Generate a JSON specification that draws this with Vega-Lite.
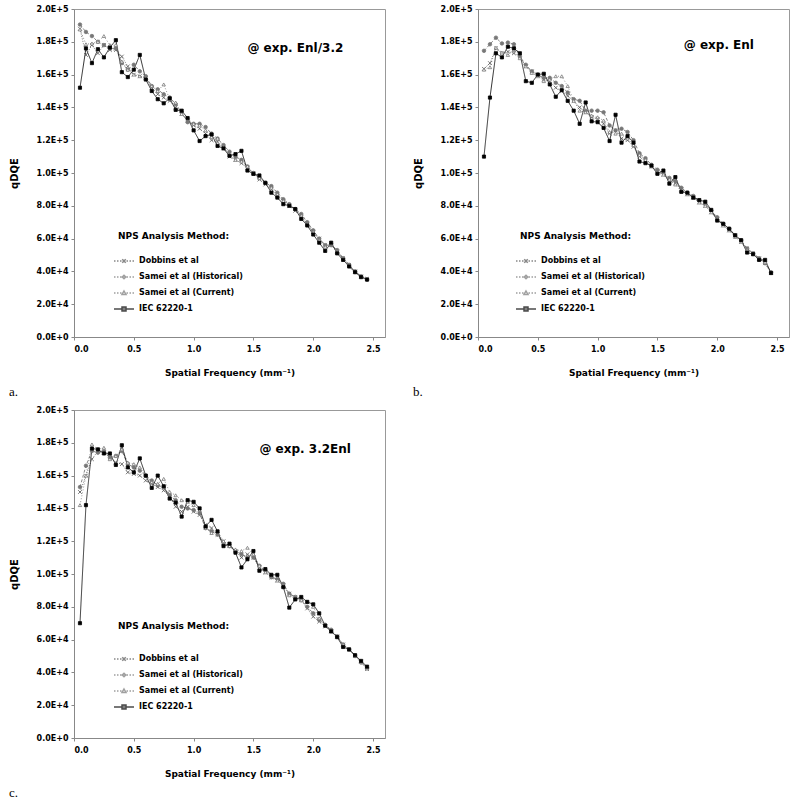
{
"$schema":"https://vega.github.io/schema/vega-lite/v6.json",
"padding":{"left":8,"top":4,"right":5,"bottom":5},
"config":{"font":"DejaVu Sans","view":{"stroke":"#999"},
 "axisX":{"values":[0,0.5,1,1.5,2,2.5],"format":".1f","labelOverlap":false,"title":"Spatial Frequency (mm⁻¹)","titleFontSize":9,"titleFontWeight":"bold","titleColor":"#000","titlePadding":15,"labelFontSize":8,"labelFontWeight":"bold","labelColor":"#000","domainColor":"#888","tickColor":"#888","tickSize":3,"labelPadding":5,"grid":false},
 "axisY":{"values":[0,20000,40000,60000,80000,100000,120000,140000,160000,180000,200000],"labelOverlap":false,"labelExpr":"upper(format(datum.value,'.1e'))","titleFontSize":10,"titleFontWeight":"bold","titleColor":"#000","titlePadding":17,"labelFontSize":8,"labelFontWeight":"bold","labelColor":"#000","domainColor":"#888","tickColor":"#888","tickSize":3,"labelPadding":3,"grid":false}
},
"datasets":{
"a":[
{"f":0.05,"s":"D","q":188000},{"f":0.05,"s":"H","q":190500},{"f":0.05,"s":"C","q":187500},{"f":0.05,"s":"I","q":152000},
{"f":0.1,"s":"D","q":172000},{"f":0.1,"s":"H","q":186000},{"f":0.1,"s":"C","q":178500},{"f":0.1,"s":"I","q":176000},
{"f":0.15,"s":"D","q":178000},{"f":0.15,"s":"H","q":183500},{"f":0.15,"s":"C","q":179000},{"f":0.15,"s":"I","q":167000},
{"f":0.2,"s":"D","q":173000},{"f":0.2,"s":"H","q":180000},{"f":0.2,"s":"C","q":180000},{"f":0.2,"s":"I","q":175500},
{"f":0.25,"s":"D","q":178000},{"f":0.25,"s":"H","q":178000},{"f":0.25,"s":"C","q":183500},{"f":0.25,"s":"I","q":170500},
{"f":0.3,"s":"D","q":175000},{"f":0.3,"s":"H","q":176000},{"f":0.3,"s":"C","q":178000},{"f":0.3,"s":"I","q":176500},
{"f":0.35,"s":"D","q":175000},{"f":0.35,"s":"H","q":176000},{"f":0.35,"s":"C","q":178000},{"f":0.35,"s":"I","q":181000},
{"f":0.4,"s":"D","q":171000},{"f":0.4,"s":"H","q":167000},{"f":0.4,"s":"C","q":168000},{"f":0.4,"s":"I","q":161500},
{"f":0.45,"s":"D","q":165000},{"f":0.45,"s":"H","q":163000},{"f":0.45,"s":"C","q":163000},{"f":0.45,"s":"I","q":158500},
{"f":0.5,"s":"D","q":160000},{"f":0.5,"s":"H","q":166000},{"f":0.5,"s":"C","q":160000},{"f":0.5,"s":"I","q":163000},
{"f":0.55,"s":"D","q":159000},{"f":0.55,"s":"H","q":162000},{"f":0.55,"s":"C","q":159000},{"f":0.55,"s":"I","q":172000},
{"f":0.6,"s":"D","q":158000},{"f":0.6,"s":"H","q":159000},{"f":0.6,"s":"C","q":158000},{"f":0.6,"s":"I","q":157000},
{"f":0.65,"s":"D","q":152000},{"f":0.65,"s":"H","q":153000},{"f":0.65,"s":"C","q":153000},{"f":0.65,"s":"I","q":150000},
{"f":0.7,"s":"D","q":148000},{"f":0.7,"s":"H","q":151000},{"f":0.7,"s":"C","q":150000},{"f":0.7,"s":"I","q":145000},
{"f":0.75,"s":"D","q":146000},{"f":0.75,"s":"H","q":148000},{"f":0.75,"s":"C","q":154000},{"f":0.75,"s":"I","q":142500},
{"f":0.8,"s":"D","q":144000},{"f":0.8,"s":"H","q":146000},{"f":0.8,"s":"C","q":145000},{"f":0.8,"s":"I","q":145500},
{"f":0.85,"s":"D","q":140000},{"f":0.85,"s":"H","q":142000},{"f":0.85,"s":"C","q":143000},{"f":0.85,"s":"I","q":138500},
{"f":0.9,"s":"D","q":136000},{"f":0.9,"s":"H","q":137000},{"f":0.9,"s":"C","q":136000},{"f":0.9,"s":"I","q":138000},
{"f":0.95,"s":"D","q":132000},{"f":0.95,"s":"H","q":131000},{"f":0.95,"s":"C","q":133000},{"f":0.95,"s":"I","q":133500},
{"f":1.0,"s":"D","q":129000},{"f":1.0,"s":"H","q":130000},{"f":1.0,"s":"C","q":130000},{"f":1.0,"s":"I","q":126000},
{"f":1.05,"s":"D","q":127000},{"f":1.05,"s":"H","q":130000},{"f":1.05,"s":"C","q":129000},{"f":1.05,"s":"I","q":119500},
{"f":1.1,"s":"D","q":124000},{"f":1.1,"s":"H","q":128000},{"f":1.1,"s":"C","q":126000},{"f":1.1,"s":"I","q":122500},
{"f":1.15,"s":"D","q":120000},{"f":1.15,"s":"H","q":124000},{"f":1.15,"s":"C","q":122000},{"f":1.15,"s":"I","q":123500},
{"f":1.2,"s":"D","q":119000},{"f":1.2,"s":"H","q":121000},{"f":1.2,"s":"C","q":121000},{"f":1.2,"s":"I","q":116500},
{"f":1.25,"s":"D","q":115000},{"f":1.25,"s":"H","q":117000},{"f":1.25,"s":"C","q":116000},{"f":1.25,"s":"I","q":115000},
{"f":1.3,"s":"D","q":110000},{"f":1.3,"s":"H","q":113000},{"f":1.3,"s":"C","q":111000},{"f":1.3,"s":"I","q":110500},
{"f":1.35,"s":"D","q":108000},{"f":1.35,"s":"H","q":110000},{"f":1.35,"s":"C","q":108000},{"f":1.35,"s":"I","q":111500},
{"f":1.4,"s":"D","q":106000},{"f":1.4,"s":"H","q":108000},{"f":1.4,"s":"C","q":107000},{"f":1.4,"s":"I","q":113500},
{"f":1.45,"s":"D","q":103000},{"f":1.45,"s":"H","q":104000},{"f":1.45,"s":"C","q":104000},{"f":1.45,"s":"I","q":101500},
{"f":1.5,"s":"D","q":100000},{"f":1.5,"s":"H","q":100000},{"f":1.5,"s":"C","q":99500},{"f":1.5,"s":"I","q":99500},
{"f":1.55,"s":"D","q":96000},{"f":1.55,"s":"H","q":97000},{"f":1.55,"s":"C","q":97000},{"f":1.55,"s":"I","q":98500},
{"f":1.6,"s":"D","q":93000},{"f":1.6,"s":"H","q":94000},{"f":1.6,"s":"C","q":94000},{"f":1.6,"s":"I","q":94000},
{"f":1.65,"s":"D","q":90000},{"f":1.65,"s":"H","q":92000},{"f":1.65,"s":"C","q":91000},{"f":1.65,"s":"I","q":88000},
{"f":1.7,"s":"D","q":86000},{"f":1.7,"s":"H","q":88000},{"f":1.7,"s":"C","q":87000},{"f":1.7,"s":"I","q":85000},
{"f":1.75,"s":"D","q":83000},{"f":1.75,"s":"H","q":84000},{"f":1.75,"s":"C","q":83000},{"f":1.75,"s":"I","q":81000},
{"f":1.8,"s":"D","q":80000},{"f":1.8,"s":"H","q":81000},{"f":1.8,"s":"C","q":81000},{"f":1.8,"s":"I","q":80000},
{"f":1.85,"s":"D","q":77000},{"f":1.85,"s":"H","q":78000},{"f":1.85,"s":"C","q":78000},{"f":1.85,"s":"I","q":78000},
{"f":1.9,"s":"D","q":73000},{"f":1.9,"s":"H","q":75000},{"f":1.9,"s":"C","q":74000},{"f":1.9,"s":"I","q":72000},
{"f":1.95,"s":"D","q":69000},{"f":1.95,"s":"H","q":70000},{"f":1.95,"s":"C","q":69000},{"f":1.95,"s":"I","q":68000},
{"f":2.0,"s":"D","q":64000},{"f":2.0,"s":"H","q":65000},{"f":2.0,"s":"C","q":64000},{"f":2.0,"s":"I","q":62500},
{"f":2.05,"s":"D","q":60000},{"f":2.05,"s":"H","q":60000},{"f":2.05,"s":"C","q":59000},{"f":2.05,"s":"I","q":57500},
{"f":2.1,"s":"D","q":56000},{"f":2.1,"s":"H","q":56000},{"f":2.1,"s":"C","q":55000},{"f":2.1,"s":"I","q":52500},
{"f":2.15,"s":"D","q":56000},{"f":2.15,"s":"H","q":56000},{"f":2.15,"s":"C","q":57000},{"f":2.15,"s":"I","q":57500},
{"f":2.2,"s":"D","q":52000},{"f":2.2,"s":"H","q":53000},{"f":2.2,"s":"C","q":52000},{"f":2.2,"s":"I","q":51000},
{"f":2.25,"s":"D","q":48000},{"f":2.25,"s":"H","q":48000},{"f":2.25,"s":"C","q":48000},{"f":2.25,"s":"I","q":47000},
{"f":2.3,"s":"D","q":44000},{"f":2.3,"s":"H","q":44000},{"f":2.3,"s":"C","q":44000},{"f":2.3,"s":"I","q":43000},
{"f":2.35,"s":"D","q":40000},{"f":2.35,"s":"H","q":40000},{"f":2.35,"s":"C","q":40000},{"f":2.35,"s":"I","q":39500},
{"f":2.4,"s":"D","q":37000},{"f":2.4,"s":"H","q":37000},{"f":2.4,"s":"C","q":37000},{"f":2.4,"s":"I","q":36500},
{"f":2.45,"s":"D","q":35500},{"f":2.45,"s":"H","q":35000},{"f":2.45,"s":"C","q":35500},{"f":2.45,"s":"I","q":35000}
],
"b":[
{"f":0.05,"s":"D","q":163500},{"f":0.05,"s":"H","q":174500},{"f":0.05,"s":"C","q":163000},{"f":0.05,"s":"I","q":110000},
{"f":0.1,"s":"D","q":167000},{"f":0.1,"s":"H","q":178500},{"f":0.1,"s":"C","q":164500},{"f":0.1,"s":"I","q":146000},
{"f":0.15,"s":"D","q":176000},{"f":0.15,"s":"H","q":182500},{"f":0.15,"s":"C","q":176500},{"f":0.15,"s":"I","q":173000},
{"f":0.2,"s":"D","q":173000},{"f":0.2,"s":"H","q":179000},{"f":0.2,"s":"C","q":173500},{"f":0.2,"s":"I","q":170500},
{"f":0.25,"s":"D","q":174000},{"f":0.25,"s":"H","q":179500},{"f":0.25,"s":"C","q":172000},{"f":0.25,"s":"I","q":177000},
{"f":0.3,"s":"D","q":173000},{"f":0.3,"s":"H","q":178500},{"f":0.3,"s":"C","q":175000},{"f":0.3,"s":"I","q":176000},
{"f":0.35,"s":"D","q":171000},{"f":0.35,"s":"H","q":171000},{"f":0.35,"s":"C","q":170000},{"f":0.35,"s":"I","q":173000},
{"f":0.4,"s":"D","q":165000},{"f":0.4,"s":"H","q":166000},{"f":0.4,"s":"C","q":165000},{"f":0.4,"s":"I","q":156000},
{"f":0.45,"s":"D","q":162000},{"f":0.45,"s":"H","q":162000},{"f":0.45,"s":"C","q":161000},{"f":0.45,"s":"I","q":155000},
{"f":0.5,"s":"D","q":160000},{"f":0.5,"s":"H","q":160000},{"f":0.5,"s":"C","q":159000},{"f":0.5,"s":"I","q":160000},
{"f":0.55,"s":"D","q":157000},{"f":0.55,"s":"H","q":158000},{"f":0.55,"s":"C","q":156000},{"f":0.55,"s":"I","q":160500},
{"f":0.6,"s":"D","q":156000},{"f":0.6,"s":"H","q":158000},{"f":0.6,"s":"C","q":157000},{"f":0.6,"s":"I","q":154000},
{"f":0.65,"s":"D","q":152000},{"f":0.65,"s":"H","q":155000},{"f":0.65,"s":"C","q":159000},{"f":0.65,"s":"I","q":146500},
{"f":0.7,"s":"D","q":150000},{"f":0.7,"s":"H","q":153000},{"f":0.7,"s":"C","q":159000},{"f":0.7,"s":"I","q":150500},
{"f":0.75,"s":"D","q":147000},{"f":0.75,"s":"H","q":149000},{"f":0.75,"s":"C","q":153000},{"f":0.75,"s":"I","q":144000},
{"f":0.8,"s":"D","q":144000},{"f":0.8,"s":"H","q":145000},{"f":0.8,"s":"C","q":144000},{"f":0.8,"s":"I","q":138000},
{"f":0.85,"s":"D","q":140000},{"f":0.85,"s":"H","q":144000},{"f":0.85,"s":"C","q":138000},{"f":0.85,"s":"I","q":130000},
{"f":0.9,"s":"D","q":137000},{"f":0.9,"s":"H","q":138000},{"f":0.9,"s":"C","q":137000},{"f":0.9,"s":"I","q":143000},
{"f":0.95,"s":"D","q":134000},{"f":0.95,"s":"H","q":138000},{"f":0.95,"s":"C","q":135000},{"f":0.95,"s":"I","q":131500},
{"f":1.0,"s":"D","q":133000},{"f":1.0,"s":"H","q":138000},{"f":1.0,"s":"C","q":134000},{"f":1.0,"s":"I","q":131000},
{"f":1.05,"s":"D","q":130000},{"f":1.05,"s":"H","q":137000},{"f":1.05,"s":"C","q":132000},{"f":1.05,"s":"I","q":127500},
{"f":1.1,"s":"D","q":124000},{"f":1.1,"s":"H","q":129000},{"f":1.1,"s":"C","q":125000},{"f":1.1,"s":"I","q":119500},
{"f":1.15,"s":"D","q":126000},{"f":1.15,"s":"H","q":126000},{"f":1.15,"s":"C","q":124000},{"f":1.15,"s":"I","q":135500},
{"f":1.2,"s":"D","q":121000},{"f":1.2,"s":"H","q":127000},{"f":1.2,"s":"C","q":124000},{"f":1.2,"s":"I","q":118500},
{"f":1.25,"s":"D","q":120000},{"f":1.25,"s":"H","q":125000},{"f":1.25,"s":"C","q":121000},{"f":1.25,"s":"I","q":122500},
{"f":1.3,"s":"D","q":116000},{"f":1.3,"s":"H","q":120000},{"f":1.3,"s":"C","q":117000},{"f":1.3,"s":"I","q":118500},
{"f":1.35,"s":"D","q":110000},{"f":1.35,"s":"H","q":112000},{"f":1.35,"s":"C","q":111000},{"f":1.35,"s":"I","q":107000},
{"f":1.4,"s":"D","q":107000},{"f":1.4,"s":"H","q":109000},{"f":1.4,"s":"C","q":108000},{"f":1.4,"s":"I","q":106000},
{"f":1.45,"s":"D","q":104000},{"f":1.45,"s":"H","q":105000},{"f":1.45,"s":"C","q":104000},{"f":1.45,"s":"I","q":104500},
{"f":1.5,"s":"D","q":101000},{"f":1.5,"s":"H","q":102000},{"f":1.5,"s":"C","q":100000},{"f":1.5,"s":"I","q":99500},
{"f":1.55,"s":"D","q":99000},{"f":1.55,"s":"H","q":100000},{"f":1.55,"s":"C","q":99000},{"f":1.55,"s":"I","q":101500},
{"f":1.6,"s":"D","q":95000},{"f":1.6,"s":"H","q":97000},{"f":1.6,"s":"C","q":96000},{"f":1.6,"s":"I","q":93500},
{"f":1.65,"s":"D","q":94000},{"f":1.65,"s":"H","q":95000},{"f":1.65,"s":"C","q":93000},{"f":1.65,"s":"I","q":97500},
{"f":1.7,"s":"D","q":90000},{"f":1.7,"s":"H","q":91000},{"f":1.7,"s":"C","q":89000},{"f":1.7,"s":"I","q":88500},
{"f":1.75,"s":"D","q":87000},{"f":1.75,"s":"H","q":88000},{"f":1.75,"s":"C","q":87000},{"f":1.75,"s":"I","q":88000},
{"f":1.8,"s":"D","q":85000},{"f":1.8,"s":"H","q":86000},{"f":1.8,"s":"C","q":85000},{"f":1.8,"s":"I","q":85000},
{"f":1.85,"s":"D","q":82000},{"f":1.85,"s":"H","q":83000},{"f":1.85,"s":"C","q":82000},{"f":1.85,"s":"I","q":83500},
{"f":1.9,"s":"D","q":80000},{"f":1.9,"s":"H","q":81000},{"f":1.9,"s":"C","q":80000},{"f":1.9,"s":"I","q":82500},
{"f":1.95,"s":"D","q":76000},{"f":1.95,"s":"H","q":77000},{"f":1.95,"s":"C","q":76000},{"f":1.95,"s":"I","q":77500},
{"f":2.0,"s":"D","q":72000},{"f":2.0,"s":"H","q":73000},{"f":2.0,"s":"C","q":72000},{"f":2.0,"s":"I","q":71000},
{"f":2.05,"s":"D","q":68000},{"f":2.05,"s":"H","q":69000},{"f":2.05,"s":"C","q":68000},{"f":2.05,"s":"I","q":69000},
{"f":2.1,"s":"D","q":65000},{"f":2.1,"s":"H","q":66000},{"f":2.1,"s":"C","q":65000},{"f":2.1,"s":"I","q":66000},
{"f":2.15,"s":"D","q":62000},{"f":2.15,"s":"H","q":62000},{"f":2.15,"s":"C","q":61000},{"f":2.15,"s":"I","q":62000},
{"f":2.2,"s":"D","q":58000},{"f":2.2,"s":"H","q":59000},{"f":2.2,"s":"C","q":58000},{"f":2.2,"s":"I","q":59000},
{"f":2.25,"s":"D","q":54000},{"f":2.25,"s":"H","q":54000},{"f":2.25,"s":"C","q":53000},{"f":2.25,"s":"I","q":51500},
{"f":2.3,"s":"D","q":51000},{"f":2.3,"s":"H","q":51000},{"f":2.3,"s":"C","q":50500},{"f":2.3,"s":"I","q":50500},
{"f":2.35,"s":"D","q":48000},{"f":2.35,"s":"H","q":48000},{"f":2.35,"s":"C","q":47500},{"f":2.35,"s":"I","q":47000},
{"f":2.4,"s":"D","q":45000},{"f":2.4,"s":"H","q":45000},{"f":2.4,"s":"C","q":45500},{"f":2.4,"s":"I","q":47000},
{"f":2.45,"s":"D","q":39000},{"f":2.45,"s":"H","q":39500},{"f":2.45,"s":"C","q":39000},{"f":2.45,"s":"I","q":39000}
],
"c":[
{"f":0.05,"s":"D","q":150000},{"f":0.05,"s":"H","q":153000},{"f":0.05,"s":"C","q":142000},{"f":0.05,"s":"I","q":70000},
{"f":0.1,"s":"D","q":160000},{"f":0.1,"s":"H","q":166000},{"f":0.1,"s":"C","q":160000},{"f":0.1,"s":"I","q":142000},
{"f":0.15,"s":"D","q":170000},{"f":0.15,"s":"H","q":175000},{"f":0.15,"s":"C","q":179000},{"f":0.15,"s":"I","q":176500},
{"f":0.2,"s":"D","q":175000},{"f":0.2,"s":"H","q":174000},{"f":0.2,"s":"C","q":176000},{"f":0.2,"s":"I","q":176000},
{"f":0.25,"s":"D","q":174000},{"f":0.25,"s":"H","q":175000},{"f":0.25,"s":"C","q":177000},{"f":0.25,"s":"I","q":173500},
{"f":0.3,"s":"D","q":171000},{"f":0.3,"s":"H","q":171000},{"f":0.3,"s":"C","q":170000},{"f":0.3,"s":"I","q":173500},
{"f":0.35,"s":"D","q":168000},{"f":0.35,"s":"H","q":172000},{"f":0.35,"s":"C","q":172000},{"f":0.35,"s":"I","q":166500},
{"f":0.4,"s":"D","q":167000},{"f":0.4,"s":"H","q":175000},{"f":0.4,"s":"C","q":176000},{"f":0.4,"s":"I","q":178500},
{"f":0.45,"s":"D","q":162000},{"f":0.45,"s":"H","q":167000},{"f":0.45,"s":"C","q":168000},{"f":0.45,"s":"I","q":165000},
{"f":0.5,"s":"D","q":161000},{"f":0.5,"s":"H","q":165000},{"f":0.5,"s":"C","q":167000},{"f":0.5,"s":"I","q":162000},
{"f":0.55,"s":"D","q":160000},{"f":0.55,"s":"H","q":163000},{"f":0.55,"s":"C","q":165000},{"f":0.55,"s":"I","q":170500},
{"f":0.6,"s":"D","q":157000},{"f":0.6,"s":"H","q":160000},{"f":0.6,"s":"C","q":160000},{"f":0.6,"s":"I","q":160000},
{"f":0.65,"s":"D","q":155000},{"f":0.65,"s":"H","q":157000},{"f":0.65,"s":"C","q":156000},{"f":0.65,"s":"I","q":152500},
{"f":0.7,"s":"D","q":153000},{"f":0.7,"s":"H","q":154000},{"f":0.7,"s":"C","q":155000},{"f":0.7,"s":"I","q":160000},
{"f":0.75,"s":"D","q":151000},{"f":0.75,"s":"H","q":153000},{"f":0.75,"s":"C","q":158000},{"f":0.75,"s":"I","q":153500},
{"f":0.8,"s":"D","q":147000},{"f":0.8,"s":"H","q":148000},{"f":0.8,"s":"C","q":150000},{"f":0.8,"s":"I","q":146000},
{"f":0.85,"s":"D","q":141000},{"f":0.85,"s":"H","q":145000},{"f":0.85,"s":"C","q":148000},{"f":0.85,"s":"I","q":143500},
{"f":0.9,"s":"D","q":138000},{"f":0.9,"s":"H","q":141000},{"f":0.9,"s":"C","q":145000},{"f":0.9,"s":"I","q":135000},
{"f":0.95,"s":"D","q":141000},{"f":0.95,"s":"H","q":140000},{"f":0.95,"s":"C","q":144000},{"f":0.95,"s":"I","q":145000},
{"f":1.0,"s":"D","q":138000},{"f":1.0,"s":"H","q":139000},{"f":1.0,"s":"C","q":142000},{"f":1.0,"s":"I","q":144000},
{"f":1.05,"s":"D","q":136000},{"f":1.05,"s":"H","q":137000},{"f":1.05,"s":"C","q":139000},{"f":1.05,"s":"I","q":140000},
{"f":1.1,"s":"D","q":130000},{"f":1.1,"s":"H","q":128000},{"f":1.1,"s":"C","q":128000},{"f":1.1,"s":"I","q":129000},
{"f":1.15,"s":"D","q":128000},{"f":1.15,"s":"H","q":126000},{"f":1.15,"s":"C","q":125000},{"f":1.15,"s":"I","q":133000},
{"f":1.2,"s":"D","q":124000},{"f":1.2,"s":"H","q":124000},{"f":1.2,"s":"C","q":126000},{"f":1.2,"s":"I","q":126000},
{"f":1.25,"s":"D","q":120000},{"f":1.25,"s":"H","q":118000},{"f":1.25,"s":"C","q":120000},{"f":1.25,"s":"I","q":117000},
{"f":1.3,"s":"D","q":117000},{"f":1.3,"s":"H","q":117000},{"f":1.3,"s":"C","q":117000},{"f":1.3,"s":"I","q":118500},
{"f":1.35,"s":"D","q":114000},{"f":1.35,"s":"H","q":114000},{"f":1.35,"s":"C","q":115000},{"f":1.35,"s":"I","q":113000},
{"f":1.4,"s":"D","q":110000},{"f":1.4,"s":"H","q":112000},{"f":1.4,"s":"C","q":114000},{"f":1.4,"s":"I","q":104000},
{"f":1.45,"s":"D","q":112000},{"f":1.45,"s":"H","q":110000},{"f":1.45,"s":"C","q":116000},{"f":1.45,"s":"I","q":109000},
{"f":1.5,"s":"D","q":110000},{"f":1.5,"s":"H","q":110000},{"f":1.5,"s":"C","q":112000},{"f":1.5,"s":"I","q":114000},
{"f":1.55,"s":"D","q":104000},{"f":1.55,"s":"H","q":105000},{"f":1.55,"s":"C","q":105000},{"f":1.55,"s":"I","q":102000},
{"f":1.6,"s":"D","q":101000},{"f":1.6,"s":"H","q":102000},{"f":1.6,"s":"C","q":101000},{"f":1.6,"s":"I","q":103000},
{"f":1.65,"s":"D","q":98000},{"f":1.65,"s":"H","q":98000},{"f":1.65,"s":"C","q":99000},{"f":1.65,"s":"I","q":99500},
{"f":1.7,"s":"D","q":96000},{"f":1.7,"s":"H","q":97000},{"f":1.7,"s":"C","q":96000},{"f":1.7,"s":"I","q":99500},
{"f":1.75,"s":"D","q":93000},{"f":1.75,"s":"H","q":94000},{"f":1.75,"s":"C","q":93000},{"f":1.75,"s":"I","q":92000},
{"f":1.8,"s":"D","q":88000},{"f":1.8,"s":"H","q":88000},{"f":1.8,"s":"C","q":87000},{"f":1.8,"s":"I","q":79500},
{"f":1.85,"s":"D","q":86000},{"f":1.85,"s":"H","q":86000},{"f":1.85,"s":"C","q":85000},{"f":1.85,"s":"I","q":84500},
{"f":1.9,"s":"D","q":84000},{"f":1.9,"s":"H","q":84000},{"f":1.9,"s":"C","q":84000},{"f":1.9,"s":"I","q":86000},
{"f":1.95,"s":"D","q":79000},{"f":1.95,"s":"H","q":80000},{"f":1.95,"s":"C","q":83000},{"f":1.95,"s":"I","q":83000},
{"f":2.0,"s":"D","q":74000},{"f":2.0,"s":"H","q":76000},{"f":2.0,"s":"C","q":80000},{"f":2.0,"s":"I","q":81500},
{"f":2.05,"s":"D","q":71000},{"f":2.05,"s":"H","q":72000},{"f":2.05,"s":"C","q":73000},{"f":2.05,"s":"I","q":76000},
{"f":2.1,"s":"D","q":68000},{"f":2.1,"s":"H","q":69000},{"f":2.1,"s":"C","q":69000},{"f":2.1,"s":"I","q":68500},
{"f":2.15,"s":"D","q":65000},{"f":2.15,"s":"H","q":66000},{"f":2.15,"s":"C","q":65000},{"f":2.15,"s":"I","q":65000},
{"f":2.2,"s":"D","q":62000},{"f":2.2,"s":"H","q":62000},{"f":2.2,"s":"C","q":62000},{"f":2.2,"s":"I","q":61500},
{"f":2.25,"s":"D","q":57000},{"f":2.25,"s":"H","q":57000},{"f":2.25,"s":"C","q":57000},{"f":2.25,"s":"I","q":55500},
{"f":2.3,"s":"D","q":54000},{"f":2.3,"s":"H","q":54000},{"f":2.3,"s":"C","q":54000},{"f":2.3,"s":"I","q":54000},
{"f":2.35,"s":"D","q":50000},{"f":2.35,"s":"H","q":50000},{"f":2.35,"s":"C","q":50000},{"f":2.35,"s":"I","q":50500},
{"f":2.4,"s":"D","q":46500},{"f":2.4,"s":"H","q":46000},{"f":2.4,"s":"C","q":46500},{"f":2.4,"s":"I","q":47000},
{"f":2.45,"s":"D","q":42000},{"f":2.45,"s":"H","q":42500},{"f":2.45,"s":"C","q":42500},{"f":2.45,"s":"I","q":43500}
]
},
"columns":2,
"spacing":{"column":26,"row":5},
"resolve":{"scale":{"shape":"independent","fill":"independent","stroke":"independent","size":"independent","color":"independent","strokeDash":"independent"},"legend":{"shape":"independent","fill":"independent","stroke":"independent"}},
"concat":[
{
"width":311,"height":328,
"data":{"name":"a"},
"title":{"text":"a.","orient":"bottom","anchor":"start","frame":"bounds","font":"Liberation Serif","fontSize":13,"fontWeight":"normal","color":"#000","offset":9},
"layer":[
 {"mark":{"type":"line","strokeWidth":0.8},"encoding":{
  "x":{"field":"f","type":"quantitative","scale":{"domain":[0,2.5]},"title":"Spatial Frequency (mm⁻¹)"},
  "y":{"field":"q","type":"quantitative","scale":{"domain":[0,200000]},"title":"qDQE"},
  "color":{"field":"s","type":"nominal","scale":{"domain":["D","H","C","I"],"range":["#555","#666","#777","#000"]},"legend":null},"strokeDash":{"field":"s","type":"nominal","scale":{"domain":["D","H","C","I"],"range":[[1,1.5],[3,2],[1,2],[1,0]]},"legend":null}}},
 {"mark":{"type":"point","filled":true,"strokeWidth":0.8,"opacity":1},"encoding":{"x":{"field":"f","type":"quantitative","title":"Spatial Frequency (mm⁻¹)"},"y":{"field":"q","type":"quantitative","title":"qDQE"},"shape":{"field":"s","type":"nominal","scale":{"domain":["D","H","C","I"],"range":["M-1,-1L1,1M1,-1L-1,1","circle","triangle-up","square"]},"legend":null},"fill":{"field":"s","type":"nominal","scale":{"domain":["D","H","C","I"],"range":["#666","#777","#fff","#000"]},"legend":null},"stroke":{"field":"s","type":"nominal","scale":{"domain":["D","H","C","I"],"range":["#555","#777","#777","#000"]},"legend":null},"size":{"field":"s","type":"ordinal","scale":{"domain":["D","H","C","I"],"range":[14,10,16,20]},"legend":null}}},
 {"transform":[{"filter":"false"}],"mark":{"type":"point","filled":true,"size":100,"strokeWidth":0.8},"encoding":{
   "shape":{"field":"s","type":"nominal","scale":{"domain":["D","H","C","I"],"range":["M-2,0H-1.7M-1.4,0H-1.1M-0.8,0H-0.5M0.5,0H0.8M1.1,0H1.4M1.7,0H2M-0.35,-0.35L0.35,0.35M0.35,-0.35L-0.35,0.35","M-2,0H-1.7M-1.4,0H-1.1M-0.8,0H-0.5M0.5,0H0.8M1.1,0H1.4M1.7,0H2M-0.35,0L0,-0.35L0.35,0L0,0.35Z","M-2,0H-1.7M-1.4,0H-1.1M-0.8,0H-0.5M0.5,0H0.8M1.1,0H1.4M1.7,0H2M0,-0.4L0.4,0.3L-0.4,0.3Z","M-2,0H-0.4M0.4,0H2M-0.4,-0.4H0.4V0.4H-0.4Z"]},"legend":{"orient":"none","legendX":44,"legendY":223,"title":"NPS Analysis Method:","titleFontSize":9,"titleFontWeight":"bold","titleColor":"#000","titlePadding":14,"labelFontSize":8,"labelFontWeight":"bold","labelColor":"#000","labelOffset":9,"rowPadding":5,"symbolSize":100,"labelExpr":"datum.label=='D'?'Dobbins et al':datum.label=='H'?'Samei et al (Historical)':datum.label=='C'?'Samei et al (Current)':'IEC 62220-1'"}},
   "fill":{"field":"s","type":"nominal","scale":{"domain":["D","H","C","I"],"range":["#666","#777","#fff","#000"]},"legend":{"orient":"none","legendX":44,"legendY":223,"title":"NPS Analysis Method:"}},
   "stroke":{"field":"s","type":"nominal","scale":{"domain":["D","H","C","I"],"range":["#555","#777","#777","#000"]},"legend":{"orient":"none","legendX":44,"legendY":223,"title":"NPS Analysis Method:"}}
 }},
 {"data":{"values":[{"t":"@ exp. Enl/3.2"}]},"mark":{"type":"text","align":"left","baseline":"middle","fontSize":12,"fontWeight":"bold","color":"#000"},"encoding":{"x":{"datum":1.45,"title":"Spatial Frequency (mm⁻¹)"},"y":{"datum":176400,"title":"qDQE"},"text":{"field":"t","type":"nominal"}}}
],
"resolve":{"scale":{"shape":"independent","fill":"independent","stroke":"independent"}}
},
{
"width":311,"height":328,
"data":{"name":"b"},
"title":{"text":"b.","orient":"bottom","anchor":"start","frame":"bounds","font":"Liberation Serif","fontSize":13,"fontWeight":"normal","color":"#000","offset":9},
"layer":[
 {"mark":{"type":"line","strokeWidth":0.8},"encoding":{
  "x":{"field":"f","type":"quantitative","scale":{"domain":[0,2.5]},"title":"Spatial Frequency (mm⁻¹)"},
  "y":{"field":"q","type":"quantitative","scale":{"domain":[0,200000]},"title":"qDQE"},
  "color":{"field":"s","type":"nominal","scale":{"domain":["D","H","C","I"],"range":["#555","#666","#777","#000"]},"legend":null},"strokeDash":{"field":"s","type":"nominal","scale":{"domain":["D","H","C","I"],"range":[[1,1.5],[3,2],[1,2],[1,0]]},"legend":null}}},
 {"mark":{"type":"point","filled":true,"strokeWidth":0.8,"opacity":1},"encoding":{"x":{"field":"f","type":"quantitative","title":"Spatial Frequency (mm⁻¹)"},"y":{"field":"q","type":"quantitative","title":"qDQE"},"shape":{"field":"s","type":"nominal","scale":{"domain":["D","H","C","I"],"range":["M-1,-1L1,1M1,-1L-1,1","circle","triangle-up","square"]},"legend":null},"fill":{"field":"s","type":"nominal","scale":{"domain":["D","H","C","I"],"range":["#666","#777","#fff","#000"]},"legend":null},"stroke":{"field":"s","type":"nominal","scale":{"domain":["D","H","C","I"],"range":["#555","#777","#777","#000"]},"legend":null},"size":{"field":"s","type":"ordinal","scale":{"domain":["D","H","C","I"],"range":[14,10,16,20]},"legend":null}}},
 {"transform":[{"filter":"false"}],"mark":{"type":"point","filled":true,"size":100,"strokeWidth":0.8},"encoding":{
   "shape":{"field":"s","type":"nominal","scale":{"domain":["D","H","C","I"],"range":["M-2,0H-1.7M-1.4,0H-1.1M-0.8,0H-0.5M0.5,0H0.8M1.1,0H1.4M1.7,0H2M-0.35,-0.35L0.35,0.35M0.35,-0.35L-0.35,0.35","M-2,0H-1.7M-1.4,0H-1.1M-0.8,0H-0.5M0.5,0H0.8M1.1,0H1.4M1.7,0H2M-0.35,0L0,-0.35L0.35,0L0,0.35Z","M-2,0H-1.7M-1.4,0H-1.1M-0.8,0H-0.5M0.5,0H0.8M1.1,0H1.4M1.7,0H2M0,-0.4L0.4,0.3L-0.4,0.3Z","M-2,0H-0.4M0.4,0H2M-0.4,-0.4H0.4V0.4H-0.4Z"]},"legend":{"orient":"none","legendX":42,"legendY":223,"title":"NPS Analysis Method:","titleFontSize":9,"titleFontWeight":"bold","titleColor":"#000","titlePadding":14,"labelFontSize":8,"labelFontWeight":"bold","labelColor":"#000","labelOffset":9,"rowPadding":5,"symbolSize":100,"labelExpr":"datum.label=='D'?'Dobbins et al':datum.label=='H'?'Samei et al (Historical)':datum.label=='C'?'Samei et al (Current)':'IEC 62220-1'"}},
   "fill":{"field":"s","type":"nominal","scale":{"domain":["D","H","C","I"],"range":["#666","#777","#fff","#000"]},"legend":{"orient":"none","legendX":42,"legendY":223,"title":"NPS Analysis Method:"}},
   "stroke":{"field":"s","type":"nominal","scale":{"domain":["D","H","C","I"],"range":["#555","#777","#777","#000"]},"legend":{"orient":"none","legendX":42,"legendY":223,"title":"NPS Analysis Method:"}}
 }},
 {"data":{"values":[{"t":"@ exp. Enl"}]},"mark":{"type":"text","align":"left","baseline":"middle","fontSize":12,"fontWeight":"bold","color":"#000"},"encoding":{"x":{"datum":1.72,"title":"Spatial Frequency (mm⁻¹)"},"y":{"datum":178000,"title":"qDQE"},"text":{"field":"t","type":"nominal"}}}
],
"resolve":{"scale":{"shape":"independent","fill":"independent","stroke":"independent"}}
},
{
"width":311,"height":328,
"data":{"name":"c"},
"title":{"text":"c.","orient":"bottom","anchor":"start","frame":"bounds","font":"Liberation Serif","fontSize":13,"fontWeight":"normal","color":"#000","offset":9},
"layer":[
 {"mark":{"type":"line","strokeWidth":0.8},"encoding":{
  "x":{"field":"f","type":"quantitative","scale":{"domain":[0,2.5]},"title":"Spatial Frequency (mm⁻¹)"},
  "y":{"field":"q","type":"quantitative","scale":{"domain":[0,200000]},"title":"qDQE"},
  "color":{"field":"s","type":"nominal","scale":{"domain":["D","H","C","I"],"range":["#555","#666","#777","#000"]},"legend":null},"strokeDash":{"field":"s","type":"nominal","scale":{"domain":["D","H","C","I"],"range":[[1,1.5],[3,2],[1,2],[1,0]]},"legend":null}}},
 {"mark":{"type":"point","filled":true,"strokeWidth":0.8,"opacity":1},"encoding":{"x":{"field":"f","type":"quantitative","title":"Spatial Frequency (mm⁻¹)"},"y":{"field":"q","type":"quantitative","title":"qDQE"},"shape":{"field":"s","type":"nominal","scale":{"domain":["D","H","C","I"],"range":["M-1,-1L1,1M1,-1L-1,1","circle","triangle-up","square"]},"legend":null},"fill":{"field":"s","type":"nominal","scale":{"domain":["D","H","C","I"],"range":["#666","#777","#fff","#000"]},"legend":null},"stroke":{"field":"s","type":"nominal","scale":{"domain":["D","H","C","I"],"range":["#555","#777","#777","#000"]},"legend":null},"size":{"field":"s","type":"ordinal","scale":{"domain":["D","H","C","I"],"range":[14,10,16,20]},"legend":null}}},
 {"transform":[{"filter":"false"}],"mark":{"type":"point","filled":true,"size":100,"strokeWidth":0.8},"encoding":{
   "shape":{"field":"s","type":"nominal","scale":{"domain":["D","H","C","I"],"range":["M-2,0H-1.7M-1.4,0H-1.1M-0.8,0H-0.5M0.5,0H0.8M1.1,0H1.4M1.7,0H2M-0.35,-0.35L0.35,0.35M0.35,-0.35L-0.35,0.35","M-2,0H-1.7M-1.4,0H-1.1M-0.8,0H-0.5M0.5,0H0.8M1.1,0H1.4M1.7,0H2M-0.35,0L0,-0.35L0.35,0L0,0.35Z","M-2,0H-1.7M-1.4,0H-1.1M-0.8,0H-0.5M0.5,0H0.8M1.1,0H1.4M1.7,0H2M0,-0.4L0.4,0.3L-0.4,0.3Z","M-2,0H-0.4M0.4,0H2M-0.4,-0.4H0.4V0.4H-0.4Z"]},"legend":{"orient":"none","legendX":44,"legendY":212,"title":"NPS Analysis Method:","titleFontSize":9,"titleFontWeight":"bold","titleColor":"#000","titlePadding":22,"labelFontSize":8,"labelFontWeight":"bold","labelColor":"#000","labelOffset":9,"rowPadding":5,"symbolSize":100,"labelExpr":"datum.label=='D'?'Dobbins et al':datum.label=='H'?'Samei et al (Historical)':datum.label=='C'?'Samei et al (Current)':'IEC 62220-1'"}},
   "fill":{"field":"s","type":"nominal","scale":{"domain":["D","H","C","I"],"range":["#666","#777","#fff","#000"]},"legend":{"orient":"none","legendX":44,"legendY":212,"title":"NPS Analysis Method:"}},
   "stroke":{"field":"s","type":"nominal","scale":{"domain":["D","H","C","I"],"range":["#555","#777","#777","#000"]},"legend":{"orient":"none","legendX":44,"legendY":212,"title":"NPS Analysis Method:"}}
 }},
 {"data":{"values":[{"t":"@ exp. 3.2Enl"}]},"mark":{"type":"text","align":"left","baseline":"middle","fontSize":12,"fontWeight":"bold","color":"#000"},"encoding":{"x":{"datum":1.55,"title":"Spatial Frequency (mm⁻¹)"},"y":{"datum":176000,"title":"qDQE"},"text":{"field":"t","type":"nominal"}}}
],
"resolve":{"scale":{"shape":"independent","fill":"independent","stroke":"independent"}}
}
]
}
